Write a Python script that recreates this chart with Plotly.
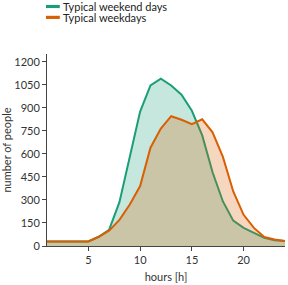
import plotly.graph_objects as go

hours = list(range(1, 25))
weekend = [30, 30, 30, 30, 30, 60, 105, 285, 570, 875, 1045, 1090, 1045, 985, 880, 720, 480, 290, 165, 118, 86, 53, 38, 32]
weekday = [30, 30, 30, 30, 30, 60, 100, 170, 270, 390, 640, 765, 845, 822, 793, 825, 740, 580, 355, 203, 118, 58, 42, 33]
series_names = ["Typical weekend days", "Typical weekdays"]
y_ticks = [0, 150, 300, 450, 600, 750, 900, 1050, 1200]
x_ticks = [5, 10, 15, 20]

green = "#1b9e77"
orange = "#d95f02"
FONT = "Lato"

fig = go.Figure()
fig.add_trace(go.Scatter(x=hours, y=weekend, mode="lines", fill="tozeroy",
                         line=dict(color=green, width=2), fillcolor="rgba(27,158,119,0.25)",
                         name=series_names[0], showlegend=False, hoverinfo="skip"))
fig.add_trace(go.Scatter(x=hours, y=weekday, mode="lines", fill="tozeroy",
                         line=dict(color=orange, width=2), fillcolor="rgba(217,95,2,0.25)",
                         name=series_names[1], showlegend=False, hoverinfo="skip"))

# manual legend
L, T, W, H = 43, 54, 242, 194
def px(x):
    return (x - L) / W
def py(y):
    return (T + H - y) / H

shapes = []
annotations = []
for i, (name, col) in enumerate(zip(series_names, [green, orange])):
    yc = 6 + i * 11
    shapes.append(dict(type="rect", xref="paper", yref="paper", x0=px(42), x1=px(56),
                       y0=py(yc + 1.6), y1=py(yc - 1.6), fillcolor=col, line=dict(width=0)))
    annotations.append(dict(x=px(57), y=py(yc + 0.5), xref="paper", yref="paper", text=name,
                            showarrow=False, xanchor="left", yanchor="middle",
                            font=dict(family=FONT, size=11, color="#222")))

fig.update_layout(
    width=288, height=285,
    margin=dict(l=L, r=288 - L - W, t=T, b=285 - T - H),
    paper_bgcolor="white", plot_bgcolor="white",
    font=dict(family=FONT, size=11, color="#333"),
    shapes=shapes, annotations=annotations,
    xaxis=dict(range=[1, 24], tickvals=x_ticks, showgrid=False, zeroline=False,
               showline=True, linecolor="#444", linewidth=1, ticks="outside", ticklen=4,
               tickcolor="#444", title=dict(text="hours [h]", font=dict(size=11), standoff=8)),
    yaxis=dict(range=[0, 1250], tickvals=y_ticks, showgrid=False, zeroline=False,
               showline=True, linecolor="#444", linewidth=1, ticks="outside", ticklen=4,
               tickcolor="#444", title=dict(text="number of people", font=dict(size=11), standoff=4)),
)
fig.write_html("out.html", config={"displayModeBar": False},
               post_script="document.body.style.margin='0';document.body.style.overflow='hidden';")
